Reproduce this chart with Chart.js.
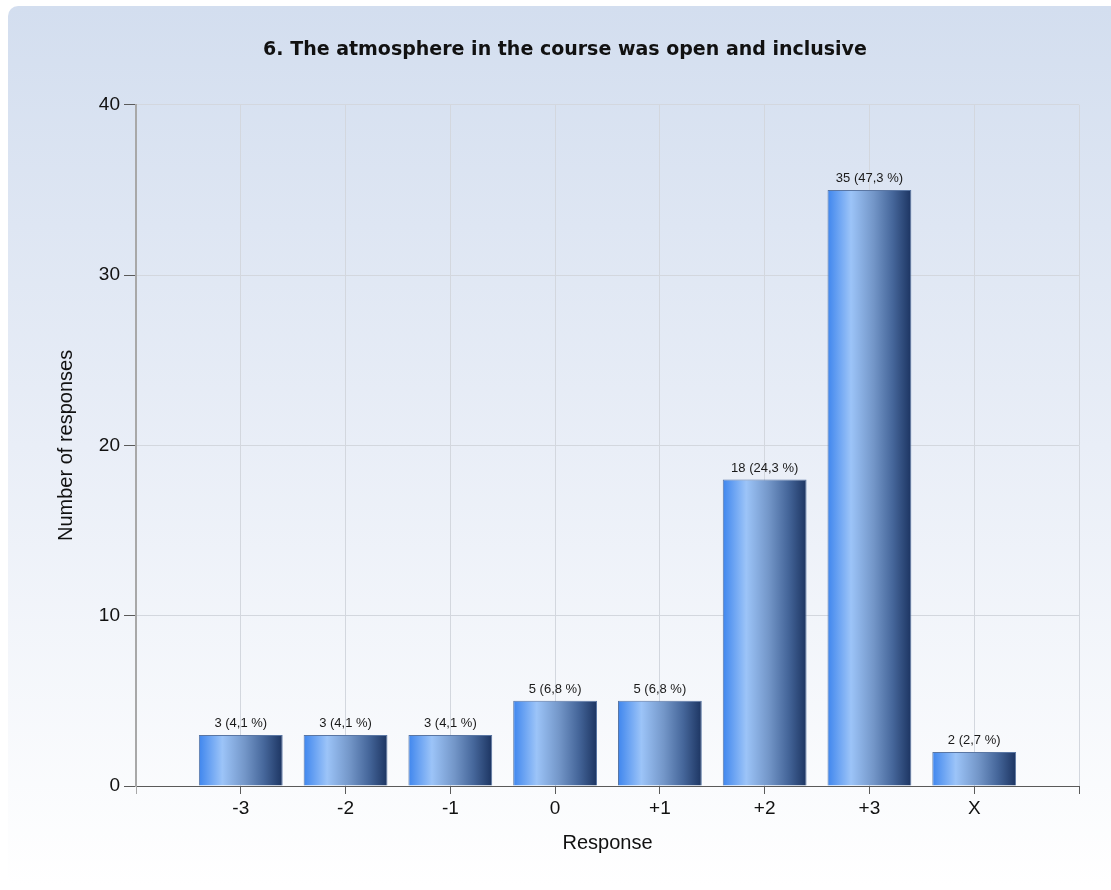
<!DOCTYPE html>
<html>
<head>
<meta charset="utf-8">
<script src="https://cdn.jsdelivr.net/npm/chart.js@4"></script>
<style>
	html, body { margin: 0; padding: 0; background: #ffffff; }
	#frame {
		position: absolute; left: 8px; top: 6px; width: 1200px; height: 880px;
		border-radius: 10px;
		background: linear-gradient(to bottom, #d3deef 0%, #e9eef7 50%, #ffffff 100%);
	}
	#wrap { position: absolute; left: 0; top: 0; width: 1111px; height: 890px; }
</style>
</head>
<body>
<div id="frame"></div>
<div id="wrap"><canvas id="graph" width="1111" height="890"></canvas></div>
<script>
// 데이터
var categories = ['-3', '-2', '-1', '0', '+1', '+2', '+3', 'X'];
var counts = [3, 3, 3, 5, 5, 18, 35, 2];
var yTicks = [0, 10, 20, 30, 40];
var titleText = '6. The atmosphere in the course was open and inclusive';

var total = counts.reduce(function(a, b) { return a + b; }, 0);

// 빈 칸을 양쪽에 두어 막대가 격자선 위에 오도록
var labels = [''].concat(categories, ['']);
var values = [null].concat(counts, [null]);

function barGradient(context) {
	var chart = context.chart;
	if (!chart.chartArea || context.type !== 'data') return '#6b9be0';
	var x = chart.scales.x;
	var cx = x.getPixelForValue(context.dataIndex);
	var w = (x.getPixelForValue(1) - x.getPixelForValue(0)) * 0.8;
	var g = chart.ctx.createLinearGradient(cx - w / 2, 0, cx + w / 2, 0);
	g.addColorStop(0, '#3f86ee');
	g.addColorStop(0.28, '#9cc4f8');
	g.addColorStop(0.55, '#7396c8');
	g.addColorStop(0.78, '#45669a');
	g.addColorStop(1, '#1c3461');
	return g;
}

// 막대 위 값 표시
var valueLabels = {
	id: 'valueLabels',
	afterDatasetsDraw: function(chart) {
		var ctx = chart.ctx;
		var meta = chart.getDatasetMeta(0);
		ctx.save();
		ctx.font = '13px "Liberation Sans", Arial, sans-serif';
		ctx.fillStyle = '#1a1a1a';
		ctx.textAlign = 'center';
		ctx.textBaseline = 'bottom';
		meta.data.forEach(function(bar, i) {
			var v = values[i];
			if (v === null) return;
			var pct = (v / total * 100).toFixed(1).replace('.', ',');
			ctx.fillText(v + ' (' + pct + ' %)', bar.x, bar.y - 5);
		});
		ctx.restore();
	}
};

var ctx = document.getElementById('graph').getContext('2d');
var myChart = new Chart(ctx, {
	type: 'bar',
	data: {
		labels: labels,
		datasets: [{
			data: values,
			backgroundColor: barGradient,
			borderColor: '#5a76a3',
			borderWidth: 1,
			barPercentage: 0.8,
			categoryPercentage: 1
		}]
	},
	plugins: [valueLabels],
	options: {
		animation: false,
		responsive: false,
		maintainAspectRatio: false,
		layout: { padding: { left: 51, right: 32, top: 0, bottom: 0 } },
		plugins: {
			legend: { display: false },
			tooltip: { enabled: false },
			title: {
				display: true,
				text: titleText,
				color: '#111111',
				font: { family: '"DejaVu Sans", Verdana, sans-serif', size: 19, weight: 'bold', lineHeight: 1.2 },
				padding: { top: 39, bottom: 43 }
			}
		},
		scales: {
			x: {
				type: 'category',
				offset: false,
				afterFit: function(scale) { scale.height = 104; },
				border: { display: true, color: '#5a5a5a', width: 1 },
				grid: {
					display: true,
					offset: false,
					color: function(c) { return c.index === 0 ? 'transparent' : '#d3d7de'; },
					tickColor: function(c) { return c.index === 0 ? '#a8a8a8' : '#5a5a5a'; },
					tickLength: 8
				},
				ticks: {
					color: '#111111',
					font: { family: '"Liberation Sans", Arial, sans-serif', size: 19 },
					padding: 3,
					maxRotation: 0,
					autoSkip: false
				},
				title: {
					display: true,
					text: 'Response',
					color: '#111111',
					font: { family: '"Liberation Sans", Arial, sans-serif', size: 20 },
					padding: { top: 0, bottom: 35 }
				}
			},
			y: {
				min: 0,
				max: 40,
				afterFit: function(scale) { scale.width = 85; },
				afterBuildTicks: function(axis) {
					axis.ticks = yTicks.map(function(v) { return { value: v }; });
				},
				border: { display: true, color: '#a8a8a8', width: 2 },
				grid: {
					color: function(c) { return c.index === 0 ? 'transparent' : '#d3d7de'; },
					tickColor: '#5a5a5a',
					tickLength: 12
				},
				ticks: {
					color: '#111111',
					font: { family: '"Liberation Sans", Arial, sans-serif', size: 19 },
					padding: 4
				},
				title: {
					display: true,
					text: 'Number of responses',
					color: '#111111',
					font: { family: '"Liberation Sans", Arial, sans-serif', size: 20 },
					padding: { top: 3, bottom: 0 }
				}
			}
		}
	}
});
</script>
</body>
</html>
